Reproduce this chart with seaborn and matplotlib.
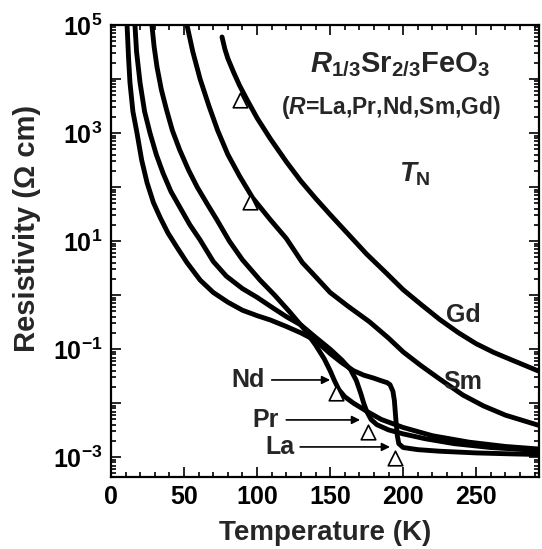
import numpy as np
import pandas as pd
import matplotlib
matplotlib.use("Agg")
import matplotlib.pyplot as plt
import matplotlib.ticker as mticker
import seaborn as sns

# ---------------- data ----------------
T_la = [11, 12, 13, 15, 17.8, 21, 24.7, 29, 33.6, 39, 45, 52, 61, 70, 80, 90, 100, 109, 120, 130,
        140, 150, 158, 166, 173, 180, 185, 189, 191, 193, 194, 195, 196, 197, 200, 210, 225, 250, 275, 294]
rho_la = [1e5, 2.5e4, 8.5e3, 2.5e3, 1.0e3, 3.16e2, 1.2e2, 52, 27.5, 14.1, 7.8, 4.0, 1.9, 1.12, 0.74,
          0.525, 0.417, 0.347, 0.263, 0.20, 0.145, 0.083, 0.056, 0.040, 0.033, 0.029, 0.026, 0.024,
          0.022, 0.0166, 0.0112, 0.005, 0.0025, 0.00178, 0.00151, 0.00138, 0.00129, 0.0012, 0.00115,
          0.00112]

T_pr = [16.4, 17.5, 19.9, 23, 26.7, 31, 35.6, 41, 47, 54, 61, 70, 79, 90, 100, 110, 120, 130, 140,
        150, 158, 164, 168, 171, 173, 175, 178, 182, 190, 200, 215, 235, 260, 294]
rho_pr = [1e5, 3.2e4, 8.5e3, 2.5e3, 1.0e3, 4.0e2, 1.82e2, 83, 43, 20, 10.5, 4.2, 2.24, 1.32, 0.91,
          0.60, 0.40, 0.28, 0.166, 0.10, 0.063, 0.042, 0.026, 0.0151, 0.010, 0.0071, 0.0050,
          0.0040, 0.0032, 0.0027, 0.0022, 0.00178, 0.00151, 0.00132]

T_nd = [28, 29.5, 31.5, 34.5, 38, 42, 47, 53, 59, 66, 72.6, 81, 90, 102, 112, 122, 132, 140, 146,
        150, 153, 156, 160, 166, 175, 185, 200, 220, 245, 270, 294]
rho_nd = [1e5, 4.0e4, 1.66e4, 6.3e3, 2.7e3, 1.12e3, 4.9e2, 2.09e2, 1.0e2, 48, 24.5, 10, 4.5, 1.9,
          1.0, 0.50, 0.24, 0.12, 0.066, 0.040, 0.026, 0.0178, 0.0132, 0.0100, 0.0071, 0.0050,
          0.00355, 0.0025, 0.0019, 0.00158, 0.00141]

T_sm = [52, 56, 61, 67, 73, 80, 88, 97, 100, 109, 120, 131, 140, 150, 162, 177, 190, 200, 212, 225,
        241, 255, 270, 294]
rho_sm = [1e5, 3.2e4, 1.0e4, 3.2e3, 1.12e3, 4.0e2, 1.6e2, 63, 50, 25, 11.2, 4.0, 2.2, 1.12, 0.63,
          0.32, 0.16, 0.089, 0.050, 0.028, 0.0141, 0.0089, 0.0060, 0.0038]

T_gd = [76, 78, 80, 84, 88, 93, 100, 109, 120, 130, 140, 150, 162, 175, 188, 200, 212, 225, 238,
        250, 262, 275, 294]
rho_gd = [6.0e4, 3.55e4, 2.4e4, 1.32e4, 7.6e3, 4.2e3, 1.9e3, 7.9e2, 2.95e2, 1.29e2, 62, 31, 13.8,
          5.75, 2.63, 1.26, 0.68, 0.355, 0.20, 0.126, 0.087, 0.062, 0.038]

samples = ["La", "Pr", "Nd", "Sm", "Gd"]
TN_T = [194.5, 176, 154, 95, 88]
TN_rho = [9.6e-4, 2.9e-3, 1.55e-2, 52, 4.1e3]

# ---------------- style ----------------
sns.set_theme(style="ticks")
plt.rcParams["font.family"] = ["Liberation Sans", "DejaVu Sans"]
plt.rcParams["font.weight"] = "bold"
plt.rcParams["mathtext.fontset"] = "custom"
plt.rcParams["mathtext.rm"] = "Liberation Sans:bold"
plt.rcParams["mathtext.it"] = "Liberation Sans:bold:italic"
plt.rcParams["mathtext.bf"] = "Liberation Sans:bold"
plt.rcParams["mathtext.sf"] = "Liberation Sans:bold"

frames = []
for name, T, r in [("La", T_la, rho_la), ("Pr", T_pr, rho_pr), ("Nd", T_nd, rho_nd),
                   ("Sm", T_sm, rho_sm), ("Gd", T_gd, rho_gd)]:
    frames.append(pd.DataFrame({"T": T, "rho": r, "sample": name}))
df = pd.concat(frames, ignore_index=True)
tn = pd.DataFrame({"T": TN_T, "rho": TN_rho, "sample": samples})

fig = plt.figure(figsize=(5.42, 5.49), dpi=100)
ax = fig.add_axes([111 / 542, 1 - 477 / 549, 428 / 542, 452 / 549])

sns.lineplot(data=df, x="T", y="rho", hue="sample", palette={s: "black" for s in samples},
             estimator=None, sort=False, legend=False, linewidth=3.5, ax=ax)
sns.scatterplot(data=tn, x="T", y="rho", marker="^", s=110, facecolor="white",
                edgecolor="black", linewidth=1.2, legend=False, ax=ax, zorder=5)

ax.set_yscale("log")
ax.set_xlim(0, 293)
ax.set_ylim(4.3e-4, 1e5)

ax.xaxis.set_major_locator(mticker.MultipleLocator(50))
ax.xaxis.set_minor_locator(mticker.MultipleLocator(10))
ax.xaxis.set_major_formatter(mticker.FuncFormatter(lambda v, p: f"{int(round(v))}" if v < 275 else ""))
ax.yaxis.set_major_locator(mticker.FixedLocator([10.0 ** k for k in range(-4, 6)]))
ax.yaxis.set_minor_locator(mticker.LogLocator(base=10, subs=np.arange(2, 10), numticks=20))


def yfmt(v, p):
    k = int(round(np.log10(v)))
    return f"$10^{{{k}}}$" if k % 2 != 0 else ""


ax.yaxis.set_major_formatter(mticker.FuncFormatter(yfmt))
ax.yaxis.set_minor_formatter(mticker.NullFormatter())

ax.tick_params(which="both", direction="in", top=True, right=True, width=1.2, colors="black")
ax.tick_params(which="major", length=7, labelsize=18, pad=6)
ax.tick_params(which="minor", length=3.5)
for lab in ax.get_xticklabels() + ax.get_yticklabels():
    lab.set_fontweight("bold")
for sp in ax.spines.values():
    sp.set_linewidth(1.6)
    sp.set_color("black")

ax.set_xlabel("Temperature (K)", fontsize=20, fontweight="bold", labelpad=8)
ax.set_ylabel("Resistivity (\u03a9 cm)", fontsize=21, fontweight="bold")
ax.yaxis.set_label_coords(-0.163, 0.551)

ax.text(0.675, 0.912, r"$\mathit{R}_{1/3}\mathrm{Sr}_{2/3}\mathrm{FeO}_{3}$", transform=ax.transAxes,
        ha="center", va="center", fontsize=21)
ax.text(0.655, 0.818, r"($\mathit{R}$=La,Pr,Nd,Sm,Gd)", transform=ax.transAxes,
        ha="center", va="center", fontsize=16.5, fontweight="bold")
ax.text(0.71, 0.67, r"$\mathit{T}_{\mathrm{N}}$", transform=ax.transAxes,
        ha="center", va="center", fontsize=20)

ax.text(241, 10 ** -0.36, "Gd", ha="center", va="center", fontsize=18, fontweight="bold")
ax.text(241, 10 ** -1.61, "Sm", ha="center", va="center", fontsize=18, fontweight="bold")

arrow = dict(arrowstyle="-|>", lw=1.2, color="black", mutation_scale=12, shrinkA=0, shrinkB=0)
ax.text(93.8, 10 ** -1.57, "Nd", ha="center", va="center", fontsize=18, fontweight="bold")
ax.annotate("", xy=(150, 10 ** -1.57), xytext=(110, 10 ** -1.57), arrowprops=arrow)
ax.text(106, 10 ** -2.31, "Pr", ha="center", va="center", fontsize=18, fontweight="bold")
ax.annotate("", xy=(170.5, 10 ** -2.31), xytext=(120, 10 ** -2.31), arrowprops=arrow)
ax.text(115.8, 10 ** -2.81, "La", ha="center", va="center", fontsize=18, fontweight="bold")
ax.annotate("", xy=(191, 10 ** -2.81), xytext=(129.5, 10 ** -2.81), arrowprops=arrow)

fig.savefig("out.png", dpi=100)
